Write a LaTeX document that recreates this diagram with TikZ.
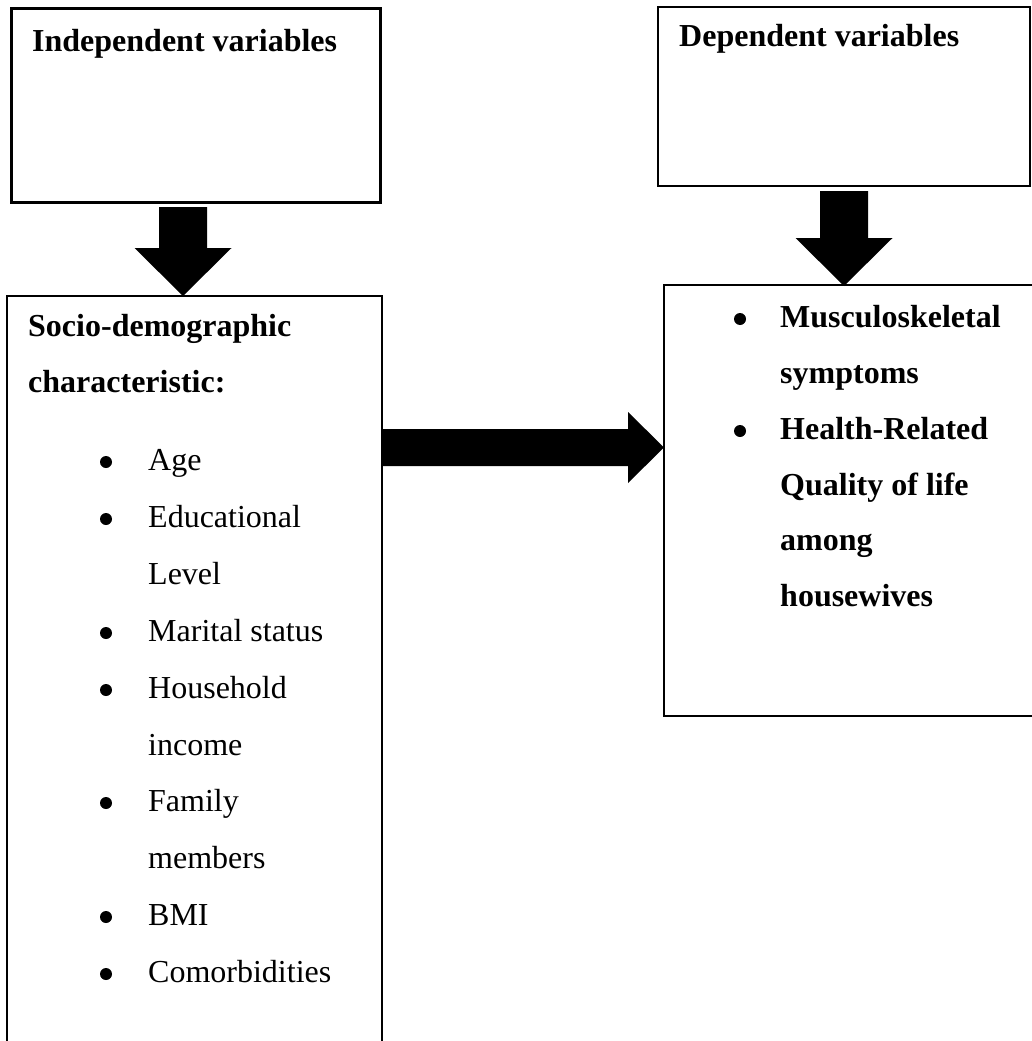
\documentclass[tikz,border=0pt]{standalone}
\usepackage{fontspec}
\setmainfont{Liberation Serif}
\usetikzlibrary{calc}
\begin{document}
\begin{tikzpicture}[x=1pt,y=-1pt,
  thickbox/.style={draw,line width=3pt,inner sep=0pt,outer sep=0pt,anchor=north west},
  thinbox/.style={draw,line width=1.3pt,inner sep=0pt,outer sep=0pt,anchor=north west},
  txt/.style={inner sep=0pt,anchor=base west,font=\fontsize{32pt}{57pt}\selectfont},
  btxt/.style={txt,font=\fontsize{32pt}{57pt}\selectfont\bfseries},
  bul/.style={circle,fill=black,inner sep=0pt,minimum size=12pt,yshift=8pt},
  bbul/.style={bul},
  blockarrow/.style={fill=black,draw=none}]
\useasboundingbox (0,0) rectangle (1032,1041);
\clip (0,0) rectangle (1032,1041);
% boxes
\node[thickbox,minimum width=369pt,minimum height=193pt] (iv) at (11,9) {};
\node[thinbox,minimum width=375pt,minimum height=780pt] (socio) at (7,296) {};
\node[thinbox,minimum width=372pt,minimum height=179pt] (dv) at (658,7) {};
\node[thinbox,minimum width=390pt,minimum height=431pt] (out) at (664,285) {};
% titles
\node[btxt] (ivt) at (32,52) {Independent variables};
\node[btxt] (dvt) at (679,47) {Dependent variables};
\node[btxt] (s1) at (28,336) {Socio-demographic};
\node[btxt] (s2) at (28,392) {characteristic:};
% left list
\node[bul] (b1) at (106,470) {};
\node[txt] (t1) at (148,470) {Age};
\node[bul] (b2) at (106,527) {};
\node[txt] (t2) at (148,527) {Educational};
\node[txt] (t2b) at (148,584) {Level};
\node[bul] (b3) at (106,641) {};
\node[txt] (t3) at (148,641) {Marital status};
\node[bul] (b4) at (106,698) {};
\node[txt] (t4) at (148,698) {Household};
\node[txt] (t4b) at (148,755) {income};
\node[bul] (b5) at (106,811) {};
\node[txt] (t5) at (148,811) {Family};
\node[txt] (t5b) at (148,868) {members};
\node[bul] (b6) at (106,925) {};
\node[txt] (t6) at (148,925) {BMI};
\node[bul] (b7) at (106,982) {};
\node[txt] (t7) at (148,982) {Comorbidities};
% right list
\node[bbul] (r1) at (740,327) {};
\node[btxt] (u1) at (780,327) {Musculoskeletal};
\node[btxt] (u1b) at (780,383) {symptoms};
\node[bbul] (r2) at (740,439) {};
\node[btxt] (u2) at (780,439) {Health-Related};
\node[btxt] (u2b) at (780,495) {Quality of life};
\node[btxt] (u2c) at (780,550) {among};
\node[btxt] (u2d) at (780,606) {housewives};
% block arrows
\coordinate (a1s) at (183,207);
\coordinate (a1t) at (183,296);
\fill[blockarrow] ($(a1s)+(-24,0)$) -- ($(a1s)+(24,0)$) -- ($(a1t)+(24,-48)$)
  -- ($(a1t)+(48.5,-48)$) -- (a1t) -- ($(a1t)+(-48.5,-48)$) -- ($(a1t)+(-24,-48)$) -- cycle;
\coordinate (a2s) at (844,191);
\coordinate (a2t) at (844,286);
\fill[blockarrow] ($(a2s)+(-24,0)$) -- ($(a2s)+(24,0)$) -- ($(a2t)+(24,-48)$)
  -- ($(a2t)+(48.5,-48)$) -- (a2t) -- ($(a2t)+(-48.5,-48)$) -- ($(a2t)+(-24,-48)$) -- cycle;
\coordinate (a3s) at (381,447.5);
\coordinate (a3t) at (664,447.5);
\fill[blockarrow] ($(a3s)+(0,-18.5)$) -- ($(a3t)+(-36,-18.5)$) -- ($(a3t)+(-36,-35.5)$)
  -- (a3t) -- ($(a3t)+(-36,35.5)$) -- ($(a3t)+(-36,18.5)$) -- ($(a3s)+(0,18.5)$) -- cycle;
\end{tikzpicture}
\end{document}
